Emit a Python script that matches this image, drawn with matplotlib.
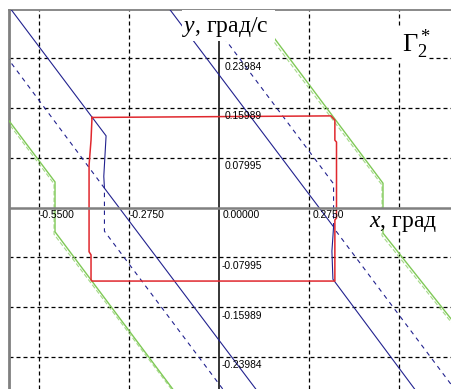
import matplotlib
matplotlib.use("Agg")
import matplotlib.pyplot as plt
from matplotlib.patches import Rectangle
import numpy as np

plt.rcParams['mathtext.fontset'] = 'custom'
plt.rcParams['mathtext.rm'] = 'Liberation Serif'
plt.rcParams['mathtext.it'] = 'Liberation Serif:italic'

# grid / tick values
x_ticks = [-0.55, -0.275, 0.0, 0.275, 0.55]
x_tick_labels = ["-0.5500", "-0.2750", "0.00000", "0.2750", ""]
y_ticks = [0.23984, 0.15989, 0.07995, -0.07995, -0.15989, -0.23984]
y_tick_labels = ["0.23984", "0.15989", "0.07995", "-0.07995", "-0.15989", "-0.23984"]

# blue solid trajectories (left and right)
blue_left_x = [-0.65, -0.345, -0.352, -0.350, 0.125]
blue_left_y = [0.328, 0.115, 0.050, 0.031, -0.300]
blue_right_x = [-0.16, 0.350, 0.345, 0.348, 0.62]
blue_right_y = [0.3245, -0.031, -0.070, -0.115, -0.307]

# blue dashed trajectories
bdash_left_x = [-0.65, -0.350, -0.350, 0.024]
bdash_left_y = [0.2425, 0.031, -0.038, -0.300]
bdash_right_x = [-0.067, 0.350, 0.350, 0.72]
bdash_right_y = [0.330, 0.038, -0.0325, -0.2915]

# red closed contour
red_x = [-0.388, 0.342, 0.354, 0.354, 0.359, 0.359, 0.354, 0.354,
         -0.388, -0.391, -0.391, -0.397, -0.397, -0.391, -0.388]
red_y = [0.1445, 0.147, 0.140, 0.108, 0.105, -0.017, -0.020, -0.118,
         -0.118, -0.116, -0.076, -0.071, 0.068, 0.108, 0.1445]

# green boundary (solid + dashed copy)
green_left_x = [-0.65, -0.501, -0.501, -0.129]
green_left_y = [0.145, 0.041, -0.039, -0.300]
green_right_x = [0.10, 0.501, 0.501, 0.72]
green_right_y = [0.320, 0.039, -0.041, -0.186]
gdash_left_x = [-0.65, -0.504, -0.504, -0.133]
gdash_left_y = [0.140, 0.038, -0.043, -0.300]
gdash_right_x = [0.096, 0.498, 0.498, 0.72]
gdash_right_y = [0.316, 0.036, -0.045, -0.191]

blue = "#22228f"
red = "#e0282e"
green = "#7fc956"

fig = plt.figure(figsize=(4.51, 3.89), dpi=100)
ax = fig.add_axes([9 / 451, 0, 442 / 451, 379 / 389])
ax.set_xlim(-0.6416, 0.7088)
ax.set_ylim(-0.2912, 0.3169)

for s in ["right", "bottom"]:
    ax.spines[s].set_visible(False)
ax.spines["left"].set_color("#808080")
ax.spines["left"].set_linewidth(2.0)
ax.spines["top"].set_color("#808080")
ax.spines["top"].set_linewidth(1.3)
ax.set_xticks([])
ax.set_yticks([])

# dashed grid
for xv in x_ticks:
    if xv != 0:
        ax.axvline(xv, color="black", lw=0.9, ls=(0, (3.2, 2.4)), zorder=1)
for yv in y_ticks:
    ax.axhline(yv, color="black", lw=0.9, ls=(0, (3.2, 2.4)), zorder=1)

# axes lines
ax.axhline(0, color="#808080", lw=1.8, zorder=6)
ax.axvline(0, color="black", lw=1.1, zorder=2)

# curves
ax.plot(green_left_x, green_left_y, color=green, lw=1.0, zorder=3)
ax.plot(green_right_x, green_right_y, color=green, lw=1.0, zorder=3)
ax.plot(gdash_left_x, gdash_left_y, color=green, lw=0.8, ls=(0, (4, 2)), alpha=0.7, zorder=3)
ax.plot(gdash_right_x, gdash_right_y, color=green, lw=0.8, ls=(0, (4, 2)), alpha=0.7, zorder=3)

ax.plot(blue_left_x, blue_left_y, color=blue, lw=0.8, zorder=3)
ax.plot(blue_right_x, blue_right_y, color=blue, lw=0.8, zorder=3)
ax.plot(bdash_left_x, bdash_left_y, color=blue, lw=0.8, ls=(0, (4, 4)), zorder=3)
ax.plot(bdash_right_x, bdash_right_y, color=blue, lw=0.8, ls=(0, (4, 4)), zorder=3)

ax.plot(red_x, red_y, color=red, lw=1.1, zorder=4)

# tick labels
for xv, lab in zip(x_ticks, x_tick_labels):
    if not lab:
        continue
    dx = 1 if lab.startswith("-") else 4
    ax.annotate(lab, (xv, 0), xytext=(dx * 0.72, -2.0), textcoords="offset points",
                ha="left", va="top", fontsize=7.4, family="Liberation Sans", zorder=7)
for yv, lab in zip(y_ticks, y_tick_labels):
    dx = 2.5 if lab.startswith("-") else 5.5
    ax.annotate(lab, (0, yv), xytext=(dx * 0.72, -2.5), textcoords="offset points",
                ha="left", va="top", fontsize=7.4, family="Liberation Sans", zorder=7)

# white boxes behind axis captions
ax.add_patch(Rectangle((-0.113, 0.267), 0.284, 0.06, fc="white", ec="none", zorder=5))
ax.add_patch(Rectangle((0.449, -0.0345), 0.226, 0.0335, fc="white", ec="none", zorder=5))
ax.add_patch(Rectangle((0.529, 0.2318), 0.110, 0.0578, fc="white", ec="none", zorder=5))

ax.text(-0.113, 0.2816, r"$y$, град/с", fontsize=17, family="Liberation Serif",
        ha="left", va="baseline", zorder=8)
ax.text(0.458, -0.0313, r"$x$, град", fontsize=17, family="Liberation Serif",
        ha="left", va="baseline", zorder=8)
ax.text(0.559, 0.2495, r"Γ$_2^*$", fontsize=19, family="Liberation Serif",
        ha="left", va="baseline", zorder=8)

fig.savefig("out.png", dpi=100)
